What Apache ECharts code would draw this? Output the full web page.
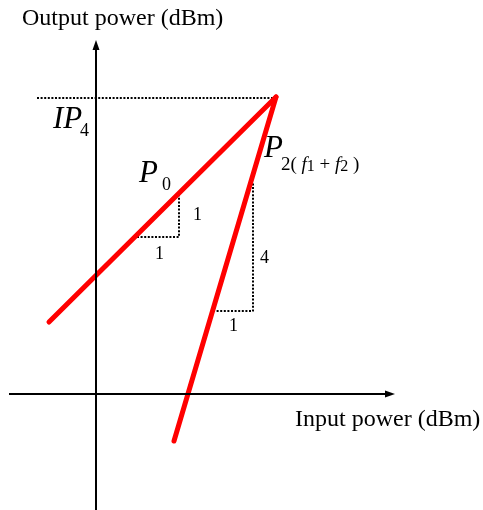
<!DOCTYPE html>
<html><head><meta charset="utf-8">
<script src="https://cdn.jsdelivr.net/npm/echarts@6/dist/echarts.min.js"></script>
<style>html,body{margin:0;padding:0;background:#fff}#c{width:483px;height:510px}</style>
</head><body><div id="c"></div>
<script>
// Data (units: arbitrary dBm-like units, origin at axes crossing)
const p0Line = [[-4.7, 7.2], [18.0, 29.7]];
const p2Line = [[7.8, -4.7], [18.0, 29.7]];
const ipGuide = [[-5.9, 29.6], [18.0, 29.6]];
const slope1Tri = [[4.1, 15.7], [8.3, 15.7], [8.3, 20.1]];
const slope4Tri = [[11.7, 8.3], [15.7, 8.3], [15.7, 21.1]];
const xAxisSpan = [-8.7, 29.4];
const yAxisSpan = [-11.6, 34.9];
const xName = 'Input power (dBm)';
const yName = 'Output power (dBm)';
const slope1Labels = ['1', '1'];
const slope4Labels = ['4', '1'];

const serif = '"Liberation Serif", "Times New Roman", serif';
const chart = echarts.init(document.getElementById('c'), null, {renderer: 'canvas'});

function txt(text, x, y, size, italic) {
  return {
    type: 'text', x: x, y: y, silent: true,
    style: {text: text, fill: '#000', fontFamily: serif, fontSize: size,
      fontStyle: italic ? 'italic' : 'normal', align: 'left', verticalAlign: 'middle'}
  };
}

chart.setOption({
  animation: false,
  backgroundColor: '#fff',
  grid: {left: 0, right: 0, top: 0, bottom: 0},
  xAxis: {type: 'value', min: -9.6, max: 38.7, show: false},
  yAxis: {type: 'value', min: -11.6, max: 39.4, show: false},
  series: [
    {
      type: 'line', data: [], silent: true,
      markLine: {
        silent: true, symbol: ['none', 'triangle'], symbolSize: [7, 10],
        label: {show: false},
        lineStyle: {color: '#000', width: 2, type: 'solid'},
        emphasis: {disabled: true},
        data: [
          [{coord: [xAxisSpan[0], 0]}, {coord: [xAxisSpan[1], 0]}],
          [{coord: [0, yAxisSpan[0]]}, {coord: [0, yAxisSpan[1]]}]
        ]
      }
    },
    {type: 'line', data: ipGuide, showSymbol: false, silent: true,
      lineStyle: {color: '#000', width: 2, type: [2, 1.6]}},
    {type: 'line', data: slope1Tri, showSymbol: false, silent: true,
      lineStyle: {color: '#000', width: 2, type: [2, 1.6]}},
    {type: 'line', data: slope4Tri, showSymbol: false, silent: true,
      lineStyle: {color: '#000', width: 2, type: [2, 1.6]}},
    {type: 'line', data: p0Line, showSymbol: false, silent: true,
      lineStyle: {color: '#ff0000', width: 5, cap: 'round'}},
    {type: 'line', data: p2Line, showSymbol: false, silent: true,
      lineStyle: {color: '#ff0000', width: 5, cap: 'round'}}
  ],
  graphic: [
    txt(yName, 22, 19, 24, false),
    txt(xName, 295, 420, 24, false),
    txt('IP', 53, 120, 31, true),
    txt('4', 80, 131, 18, false),
    txt('P', 139, 174, 31, true),
    txt('0', 162, 185, 18, false),
    txt('P', 264, 149, 31, true),
    {
      type: 'text', x: 281, y: 165, silent: true,
      style: {
        text: '{d|2(}{i| f}{s|1}{d| + }{i|f}{s|2}{d| )}',
        fontFamily: serif, fontSize: 19, fill: '#000', verticalAlign: 'middle',
        rich: {
          d: {fontFamily: serif, fontSize: 19, fill: '#000'},
          i: {fontFamily: serif, fontSize: 19, fontStyle: 'italic', fill: '#000'},
          s: {fontFamily: serif, fontSize: 16, fill: '#000', padding: [4, 0, 0, 0]}
        }
      }
    },
    txt(slope1Labels[0], 193, 215, 18, false),
    txt(slope1Labels[1], 155, 254, 18, false),
    txt(slope4Labels[0], 260, 258, 18, false),
    txt(slope4Labels[1], 229, 326, 18, false)
  ]
});
</script></body></html>
